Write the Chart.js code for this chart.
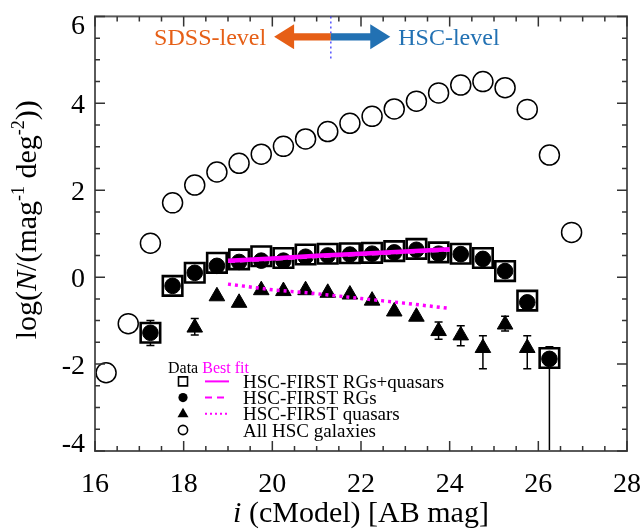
<!DOCTYPE html>
<html>
<head>
<meta charset="utf-8">
<script src="https://cdn.jsdelivr.net/npm/chart.js@4.4.1/dist/chart.umd.min.js"></script>
<style>
  html, body { margin: 0; padding: 0; background: #fff; }
  #wrap { width: 644px; height: 529px; }
</style>
</head>
<body>
<div id="wrap"><canvas id="lfChart" width="644" height="529"></canvas></div>
<script>
// bins in i-band cModel magnitude
const magAll = [16.25, 16.75, 17.25, 17.75, 18.25, 18.75, 19.25, 19.75, 20.25, 20.75, 21.25,
                21.75, 22.25, 22.75, 23.25, 23.75, 24.25, 24.75, 25.25, 25.75, 26.25, 26.75];
const logAll = [-2.20, -1.07, 0.78, 1.71, 2.12, 2.42, 2.62, 2.83, 3.01, 3.18, 3.35,
                3.54, 3.70, 3.87, 4.05, 4.24, 4.42, 4.50, 4.36, 3.86, 2.81, 1.03];

const magRG = [17.25, 17.75, 18.25, 18.75, 19.25, 19.75, 20.25, 20.75, 21.25, 21.75,
               22.25, 22.75, 23.25, 23.75, 24.25, 24.75, 25.25, 25.75, 26.25];
const logRGQ = [-1.28, -0.20, 0.10, 0.33, 0.41, 0.48, 0.44, 0.52, 0.54, 0.55,
                0.56, 0.60, 0.65, 0.57, 0.54, 0.44, 0.14, -0.54, -1.86];
const logRG = [-1.28, -0.20, 0.10, 0.26, 0.35, 0.38, 0.38, 0.47, 0.50, 0.52,
               0.54, 0.57, 0.63, 0.54, 0.53, 0.42, 0.14, -0.58, -1.88];
// error bars (only the ones sticking out of the symbols)
const rgqErrHi = [-1.00, null, null, null, null, null, null, null, null, null,
                  null, null, null, null, null, null, null, null, -1.60];
const rgqErrLo = [-1.57, null, null, null, null, null, null, null, null, null,
                  null, null, null, null, null, null, null, null, -4.50];

const magQSO = [18.25, 18.75, 19.25, 19.75, 20.25, 20.75, 21.25, 21.75,
                22.25, 22.75, 23.25, 23.75, 24.25, 24.75, 25.25, 25.75];
const logQSO = [-1.16, -0.44, -0.59, -0.30, -0.32, -0.30, -0.36, -0.40,
                -0.54, -0.79, -0.91, -1.24, -1.34, -1.63, -1.09, -1.63];
const qsoErrHi = [-0.95, null, null, null, null, null, null, null,
                  null, null, null, -1.03, -1.12, -1.35, -0.90, -1.35];
const qsoErrLo = [-1.33, null, null, null, null, null, null, null,
                  null, null, null, -1.43, -1.58, -2.11, -1.24, -2.11];

// best fits
const fitMag = [19.0, 20.0, 21.0, 22.0, 23.0, 24.0];
const fitRGQ = [0.38, 0.43, 0.49, 0.54, 0.59, 0.64];
const fitRG  = [0.36, 0.41, 0.47, 0.52, 0.57, 0.62];
const fitQSO = [-0.16, -0.29, -0.38, -0.49, -0.60, -0.72];

const xTickLabels = [16, 18, 20, 22, 24, 26, 28];
const yTickLabels = [-4, -2, 0, 2, 4, 6];

// SDSS / HSC depth marker
const splitMag = 21.32;
const arrowLeftEnd = 20.04;
const arrowRightEnd = 22.66;
const arrowLevel = 5.53;
const splitLineBottom = 5.03;

const MAGENTA = '#ff00ff';
const SERIF = "'Liberation Serif', 'DejaVu Serif', serif";
Chart.defaults.font.family = SERIF;

const toPts = (xs, ys) => xs.map((x, i) => ({ x: x, y: ys[i] }));

function drawErr(ctx, xs, hi, lo, chart) {
    const xs_ = chart.scales.x, ys_ = chart.scales.y;
    ctx.save();
    ctx.strokeStyle = '#000';
    ctx.lineWidth = 1.5;
    xs.forEach((m, i) => {
        if (hi[i] === null) return;
        const px = xs_.getPixelForValue(m);
        const p1 = ys_.getPixelForValue(hi[i]);
        const p2 = ys_.getPixelForValue(lo[i]);
        ctx.beginPath();
        ctx.moveTo(px, p1); ctx.lineTo(px, p2);
        ctx.moveTo(px - 4, p1); ctx.lineTo(px + 4, p1);
        ctx.moveTo(px - 4, p2); ctx.lineTo(px + 4, p2);
        ctx.stroke();
    });
    ctx.restore();
}

function drawRich(ctx, parts, x, y, align) {
    // parts: [text, font, raise]
    let total = 0;
    parts.forEach(p => { ctx.font = p[1]; total += ctx.measureText(p[0]).width; });
    let cx = align === 'center' ? x - total / 2 : x;
    parts.forEach(p => {
        ctx.font = p[1];
        ctx.textAlign = 'left';
        ctx.fillText(p[0], cx, y - (p[2] || 0));
        cx += ctx.measureText(p[0]).width;
    });
}

const decor = {
    id: 'decor',
    beforeDatasetsDraw(chart) {
        const ctx = chart.ctx, a = chart.chartArea;
        ctx.save();
        ctx.beginPath();
        ctx.rect(a.left, a.top, a.right - a.left, a.bottom - a.top);
        ctx.clip();
        drawErr(ctx, magRG, rgqErrHi, rgqErrLo, chart);
        drawErr(ctx, magQSO, qsoErrHi, qsoErrLo, chart);
        ctx.restore();
    },
    afterDraw(chart) {
        const ctx = chart.ctx, a = chart.chartArea;
        const sx = chart.scales.x, sy = chart.scales.y;

        // frame with inward ticks on all sides
        ctx.save();
        ctx.strokeStyle = '#5a5a5a';
        ctx.lineWidth = 2;
        ctx.strokeRect(a.left, a.top, a.right - a.left, a.bottom - a.top);
        ctx.strokeStyle = '#333';
        ctx.lineWidth = 1.5;
        ctx.beginPath();
        for (let v = 16; v <= 28.001; v += 0.5) {
            const px = sx.getPixelForValue(v);
            const len = (v % 2 === 0) ? 10 : 5;
            ctx.moveTo(px, a.bottom); ctx.lineTo(px, a.bottom - len);
            ctx.moveTo(px, a.top); ctx.lineTo(px, a.top + len);
        }
        for (let v = -4; v <= 6.001; v += 0.5) {
            const py = sy.getPixelForValue(v);
            const len = (Math.abs(v) % 2 === 0) ? 10 : 5;
            ctx.moveTo(a.left, py); ctx.lineTo(a.left + len, py);
            ctx.moveTo(a.right, py); ctx.lineTo(a.right - len, py);
        }
        ctx.stroke();

        // tick labels (serif, ends pulled inside like the original)
        ctx.font = '28px ' + SERIF;
        ctx.fillStyle = '#000';
        ctx.textBaseline = 'alphabetic';
        ctx.textAlign = 'center';
        sx.ticks.forEach(t => {
            ctx.fillText(String(t.value), sx.getPixelForValue(t.value), a.bottom + 41);
        });
        ctx.textAlign = 'right';
        sy.ticks.forEach((t, i) => {
            let yb = sy.getPixelForValue(t.value) + 9.5;
            if (i === 0) yb -= 9;
            if (i === sy.ticks.length - 1) yb += 8;
            ctx.fillText(String(t.value), a.left - 10, yb);
        });

        // SDSS / HSC arrows
        const xm = sx.getPixelForValue(splitMag);
        const xl = sx.getPixelForValue(arrowLeftEnd);
        const xr = sx.getPixelForValue(arrowRightEnd);
        const ya = sy.getPixelForValue(arrowLevel);
        ctx.setLineDash([2, 3]);
        ctx.strokeStyle = '#2a2aff';
        ctx.lineWidth = 1.2;
        ctx.beginPath();
        ctx.moveTo(xm, a.top); ctx.lineTo(xm, sy.getPixelForValue(splitLineBottom));
        ctx.stroke();
        ctx.setLineDash([]);
        const sh = 3.6, hh = 12.5, hl = 20;
        ctx.fillStyle = '#e65f16';
        ctx.beginPath();
        ctx.moveTo(xm, ya - sh); ctx.lineTo(xl + hl, ya - sh); ctx.lineTo(xl + hl, ya - hh);
        ctx.lineTo(xl, ya); ctx.lineTo(xl + hl, ya + hh); ctx.lineTo(xl + hl, ya + sh);
        ctx.lineTo(xm, ya + sh); ctx.closePath(); ctx.fill();
        ctx.fillStyle = '#2271b3';
        ctx.beginPath();
        ctx.moveTo(xm, ya - sh); ctx.lineTo(xr - hl, ya - sh); ctx.lineTo(xr - hl, ya - hh);
        ctx.lineTo(xr, ya); ctx.lineTo(xr - hl, ya + hh); ctx.lineTo(xr - hl, ya + sh);
        ctx.lineTo(xm, ya + sh); ctx.closePath(); ctx.fill();
        ctx.font = '24px ' + SERIF;
        ctx.fillStyle = '#e65f16';
        ctx.textAlign = 'right';
        ctx.fillText('SDSS-level', xl - 8, ya + 8.5);
        ctx.fillStyle = '#2271b3';
        ctx.textAlign = 'left';
        ctx.fillText('HSC-level', xr + 8, ya + 8.5);

        // legend
        const lx = a.left + 88, ly = a.top + 365, dy = 16.2;
        ctx.font = '16px ' + SERIF;
        ctx.fillStyle = '#000';
        ctx.textAlign = 'left';
        ctx.fillText('Data', lx - 15, ly - 8);
        const dw = ctx.measureText('Data ').width;
        ctx.fillStyle = MAGENTA;
        ctx.fillText('Best fit', lx - 15 + dw, ly - 8);
        const labels = ['HSC-FIRST RGs+quasars', 'HSC-FIRST RGs', 'HSC-FIRST quasars', 'All HSC galaxies'];
        const dashes = [[], [7, 5], [2, 3], null];
        labels.forEach((t, i) => {
            const y = ly + i * dy;
            ctx.strokeStyle = '#000';
            ctx.fillStyle = '#000';
            ctx.lineWidth = 1.6;
            ctx.beginPath();
            if (i === 0) {
                ctx.rect(lx - 4.5, y - 4.5, 9, 9); ctx.stroke();
            } else if (i === 1) {
                ctx.arc(lx, y, 4.6, 0, Math.PI * 2); ctx.fill();
            } else if (i === 2) {
                ctx.moveTo(lx, y - 6); ctx.lineTo(lx + 5.5, y + 3.5); ctx.lineTo(lx - 5.5, y + 3.5);
                ctx.closePath(); ctx.fill();
            } else {
                ctx.arc(lx, y, 4.6, 0, Math.PI * 2); ctx.stroke();
            }
            if (dashes[i]) {
                ctx.strokeStyle = MAGENTA;
                ctx.lineWidth = 2;
                ctx.setLineDash(dashes[i]);
                ctx.beginPath();
                ctx.moveTo(lx + 22, y); ctx.lineTo(lx + 46, y);
                ctx.stroke();
                ctx.setLineDash([]);
            }
            ctx.font = '19px ' + SERIF;
            ctx.fillStyle = '#000';
            ctx.fillText(t, lx + 60, y + 6.5);
        });

        // axis titles
        const big = '30px ' + SERIF, bigI = 'italic 30px ' + SERIF, sup = '18px ' + SERIF;
        ctx.fillStyle = '#000';
        drawRich(ctx, [['i', bigI], [' (cModel) [AB mag]', big]], (a.left + a.right) / 2, 522, 'center');
        ctx.translate(36, (a.top + a.bottom) / 2 - 14);
        ctx.rotate(-Math.PI / 2);
        drawRich(ctx, [['log(', big], ['N', bigI], ['/(mag', big], ['-1', sup, 12],
                       [' deg', big], ['-2', sup, 12], ['))', big]], 0, 0, 'center');
        ctx.restore();
    }
};

const ctx = document.getElementById('lfChart').getContext('2d');
const lfChart = new Chart(ctx, {
    type: 'scatter',
    data: {
        datasets: [
            {
                label: 'HSC-FIRST RGs+quasars fit',
                data: toPts(fitMag, fitRGQ),
                showLine: true, pointRadius: 0,
                borderColor: MAGENTA, borderWidth: 4.5,
                order: 0,
            },
            {
                label: 'HSC-FIRST RGs fit',
                data: toPts(fitMag, fitRG),
                showLine: true, pointRadius: 0,
                borderColor: '#ff5cff', borderWidth: 3, borderDash: [7, 5],
                order: 0,
            },
            {
                label: 'HSC-FIRST quasars fit',
                data: toPts(fitMag, fitQSO),
                showLine: true, pointRadius: 0,
                borderColor: MAGENTA, borderWidth: 3.5, borderDash: [3, 4],
                order: 0,
            },
            {
                label: 'HSC-FIRST RGs',
                data: toPts(magRG, logRG),
                pointStyle: 'circle', pointRadius: 7.8,
                backgroundColor: '#000', borderColor: '#000', borderWidth: 1,
                order: 2,
            },
            {
                label: 'HSC-FIRST quasars',
                data: toPts(magQSO, logQSO),
                pointStyle: 'triangle', pointRadius: 9,
                backgroundColor: '#000', borderColor: '#000', borderWidth: 1,
                order: 2,
            },
            {
                label: 'HSC-FIRST RGs+quasars',
                data: toPts(magRG, logRGQ),
                pointStyle: 'rect', pointRadius: 13.8,
                backgroundColor: '#fff', borderColor: '#000', borderWidth: 2.6,
                order: 3,
            },
            {
                label: 'All HSC galaxies',
                data: toPts(magAll, logAll),
                pointStyle: 'circle', pointRadius: 10,
                backgroundColor: 'rgba(0,0,0,0)', borderColor: '#000', borderWidth: 1.5,
                order: 4,
            },
        ],
    },
    options: {
        responsive: false,
        animation: false,
        events: [],
        layout: { padding: { left: 0, right: 17, top: 10, bottom: 0 } },
        plugins: {
            legend: { display: false },
            tooltip: { enabled: false },
        },
        scales: {
            x: {
                type: 'linear', min: 16, max: 28,
                grid: { display: false },
                border: { display: false },
                afterFit: s => { s.height = 78; },
                afterBuildTicks: s => { s.ticks = xTickLabels.map(v => ({ value: v })); },
                ticks: { display: false },
            },
            y: {
                type: 'linear', min: -4, max: 6,
                grid: { display: false },
                border: { display: false },
                afterFit: s => { s.width = 95; },
                afterBuildTicks: s => { s.ticks = yTickLabels.map(v => ({ value: v })); },
                ticks: { display: false },
            },
        },
    },
    plugins: [decor],
});
</script>
</body>
</html>
